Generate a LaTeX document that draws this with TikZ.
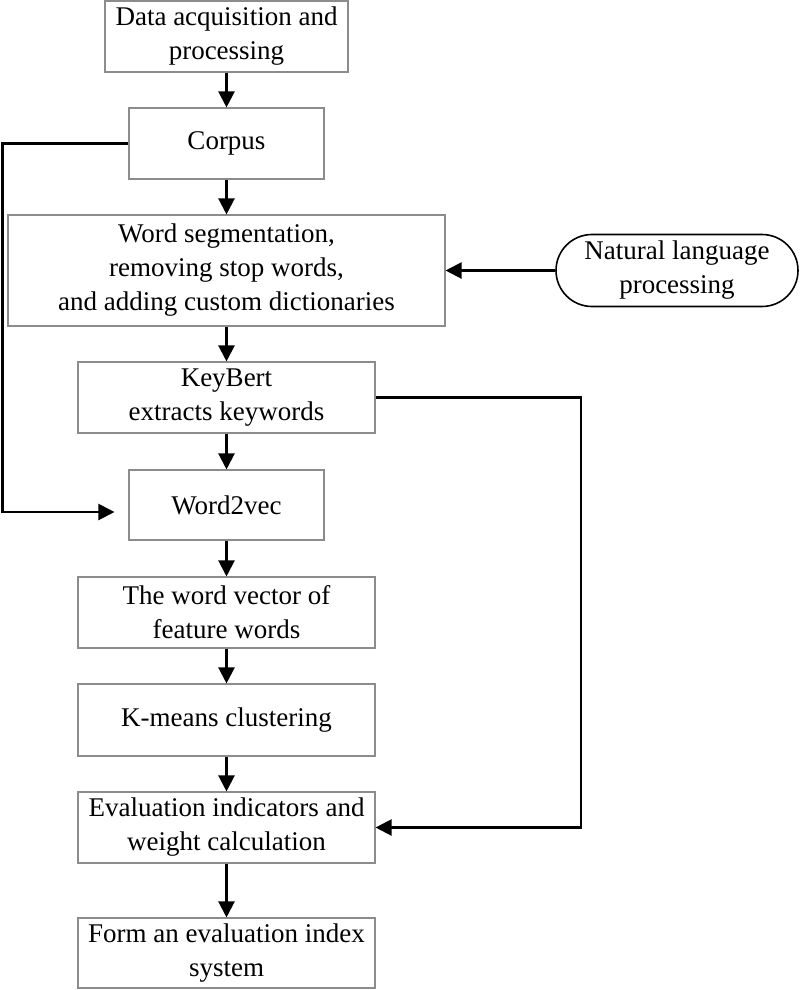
\documentclass[tikz,border=0pt]{standalone}
\usepackage{fontspec}
\setmainfont{Liberation Serif}
\usetikzlibrary{arrows.meta}
\definecolor{boxgray}{gray}{0.55}
\tikzset{
  box/.style={draw=boxgray, line width=1.1pt, inner sep=0pt, align=center,
    font=\fontsize{27}{34}\selectfont},
  oval/.style={draw=black, line width=1.6pt, inner sep=0pt, align=center,
    rounded corners=36pt, font=\fontsize{27}{34}\selectfont},
  arr/.style={draw=black, line width=2.2pt, -{Triangle[length=16pt,width=16pt]}},
}
\begin{document}
\begin{tikzpicture}[x=1pt,y=-1pt]
\useasboundingbox (0,0) rectangle (800,990);
\fill[white] (0,0) rectangle (800,990);
\coordinate (lft) at (2.5,0);
\coordinate (rgt) at (581,0);

\node[box, minimum width=243pt, minimum height=71pt] (b1) at (226.5,36.5) {Data acquisition and\\processing};
\node[box, minimum width=195pt, minimum height=71pt] (corpus) at (226.5,143.5) {Corpus};
\node[box, minimum width=437pt, minimum height=111pt] (seg) at (226.5,270.5) {Word segmentation,\\removing stop words,\\and adding custom dictionaries};
\node[box, minimum width=297pt, minimum height=71pt] (kb) at (226.5,397.5) {KeyBert\\extracts keywords};
\node[box, minimum width=195pt, minimum height=70pt] (w2v) at (226.5,505) {Word2vec};
\node[box, minimum width=297pt, minimum height=71pt] (wv) at (226.5,612.5) {The word vector of\\feature words};
\node[box, minimum width=297pt, minimum height=72pt] (km) at (226.5,720) {K-means clustering};
\node[box, minimum width=297pt, minimum height=71pt] (ev) at (226.5,827.5) {Evaluation indicators and\\weight calculation};
\node[box, minimum width=297pt, minimum height=70pt] (form) at (226.5,953) {Form an evaluation index\\system};
\node[oval, minimum width=242pt, minimum height=72pt] (nlp) at (677,270.5) {Natural language\\processing};

\draw[arr] (b1) -- (corpus);
\draw[arr] (corpus) -- (seg);
\draw[arr] (seg) -- (kb);
\draw[arr] (kb) -- (w2v);
\draw[arr] (w2v) -- (wv);
\draw[arr] (wv) -- (km);
\draw[arr] (km) -- (ev);
\draw[arr] (ev) -- (form);
\draw[arr] (nlp.west) -- (seg.east);
\draw[arr] (corpus.west) -- (corpus.west -| lft) |- ([xshift=-14pt,yshift=-7pt]w2v.west);
\draw[arr] (kb.east) -- (kb.east -| rgt) |- (ev.east);
\end{tikzpicture}
\end{document}
